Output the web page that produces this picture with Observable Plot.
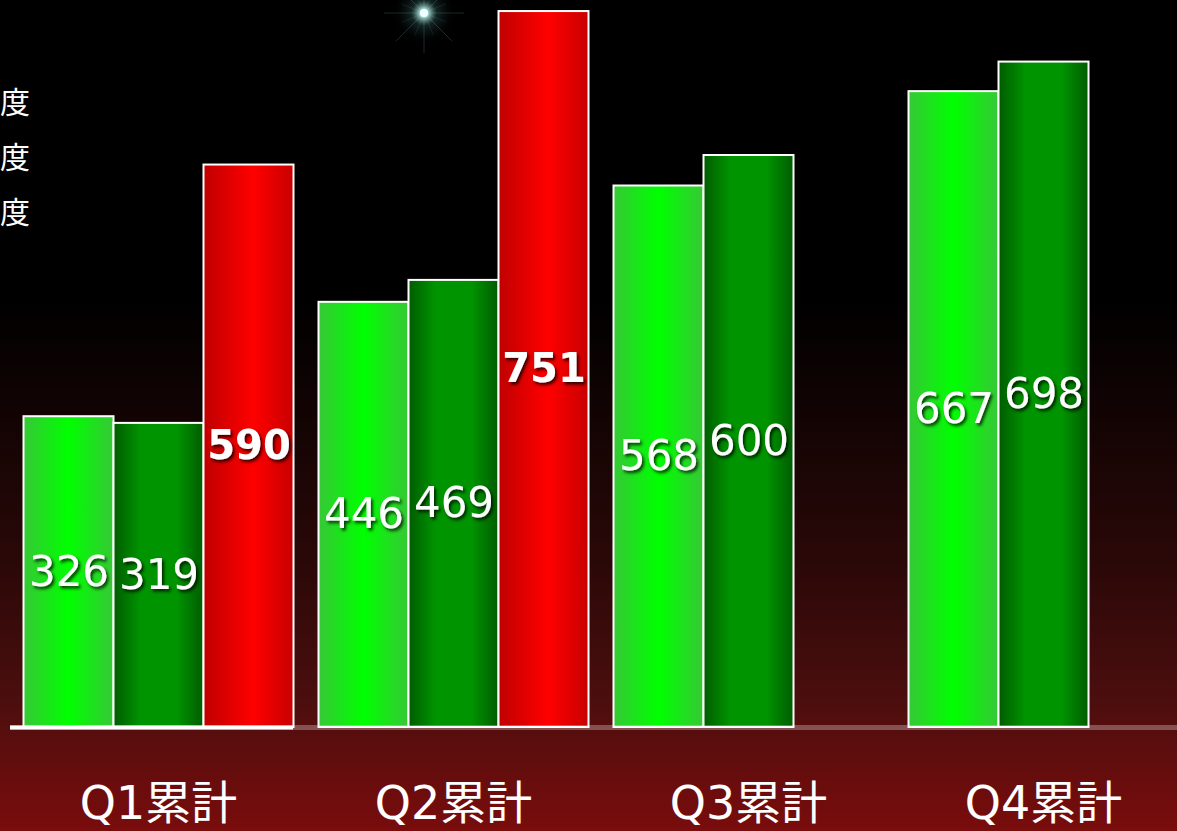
<!DOCTYPE html>
<html><head><meta charset="utf-8">
<script src="https://cdn.jsdelivr.net/npm/d3@7"></script>
<script src="https://cdn.jsdelivr.net/npm/@observablehq/plot@0.6"></script>
<style>
html,body{margin:0;padding:0;}
body{width:1177px;height:831px;overflow:hidden;background:linear-gradient(to bottom,#000 0px,#000 300px,#2a0808 560px,#4c0e0e 700px,#7a0c0c 831px);}
#chart{position:relative;width:1177px;height:831px;}
#legend{position:absolute;left:0;top:0;width:40px;height:300px;}
#legend div{position:absolute;left:0;color:#fff;font:30px 'Noto Sans CJK JP',sans-serif;line-height:1;}
</style></head><body><div id="chart"><div id="legend"></div></div>
<script>
// ---- data ----
const quarters = ["Q1累計", "Q2累計", "Q3累計", "Q4累計"];
const seriesNames = ["系列1", "系列2", "系列3"];
const values1 = [326, 446, 568, 667];
const values2 = [319, 469, 600, 698];
const values3 = [590, 751, null, null];
const legendLabels = ["度", "度", "度"];

const gradIds = {"系列1": "url(#gLight)", "系列2": "url(#gDark)", "系列3": "url(#gRed)"};
const data = [];
quarters.forEach((q, i) => {
  [values1, values2, values3].forEach((arr, j) => {
    if (arr[i] != null) data.push({quarter: q, series: seriesNames[j], value: arr[i]});
  });
});

const W = 1177, H = 831;
const FONT = "'DejaVu Sans','Noto Sans CJK JP',sans-serif";
const plot = Plot.plot({
  width: W, height: H,
  marginLeft: 22.5, marginRight: -1.5, marginTop: 0, marginBottom: 104,
  style: {background: "transparent", color: "white", fontFamily: FONT, overflow: "visible"},
  fx: {domain: quarters, paddingInner: 25 / 295, paddingOuter: 0, axis: null, label: null},
  x: {domain: seriesNames, padding: 0, axis: null},
  y: {domain: [0, 762.6], axis: null},
  color: {type: "identity"},
  marks: [
    Plot.barY(data, {fx: "quarter", x: "series", y: "value", fill: d => gradIds[d.series], stroke: "white", strokeWidth: 2}),
    Plot.text(data.filter(d => d.series !== "系列3"), {fx: "quarter", x: "series", y: d => d.value / 2, text: d => String(d.value), fill: "white", fontSize: 42}),
    Plot.text(data.filter(d => d.series === "系列3"), {fx: "quarter", x: "series", y: d => d.value / 2, text: d => String(d.value), fill: "white", fontSize: 40, fontWeight: "bold"}),
    Plot.axisFx({anchor: "bottom", tickSize: 0, tickPadding: 59, fontSize: 46, label: null, fill: "white", fontFamily: FONT})
  ]
});
document.getElementById("chart").appendChild(plot);
plot.style.position = "absolute"; plot.style.left = "0"; plot.style.top = "0";

// ---- decorations (gradients, shadow, baseline, star) ----
const svg = d3.select(plot);
const defs = svg.insert("defs", ":first-child");
function grad(id, stops) {
  const g = defs.append("linearGradient").attr("id", id).attr("x1", 0).attr("x2", 1).attr("y1", 0).attr("y2", 0);
  stops.forEach(([o, c]) => g.append("stop").attr("offset", o).attr("stop-color", c));
}
grad("gLight", [[0, "#36c836"], [0.5, "#00ff00"], [1, "#36c836"]]);
grad("gDark", [[0, "#005c00"], [0.3, "#009400"], [0.7, "#009400"], [1, "#005c00"]]);
grad("gRed", [[0, "#c00000"], [0.55, "#ff0000"], [1, "#c80000"]]);
const f = defs.append("filter").attr("id", "shadow").attr("x", "-20%").attr("y", "-20%").attr("width", "150%").attr("height", "150%");
f.append("feDropShadow").attr("dx", 2).attr("dy", 2.5).attr("stdDeviation", 1.5).attr("flood-color", "#000").attr("flood-opacity", 0.75);
svg.selectAll('g[aria-label="text"]').attr("filter", "url(#shadow)");

const y = plot.scale("y"), fx = plot.scale("fx");
const y0 = y.apply(0);
const q1end = fx.apply(quarters[0]) + fx.bandwidth;
svg.append("line").attr("x1", 10).attr("x2", W).attr("y1", y0 + 0.5).attr("y2", y0 + 0.5)
  .attr("stroke", "rgba(255,255,255,0.28)").attr("stroke-width", 5);
svg.append("line").attr("x1", 10).attr("x2", q1end).attr("y1", y0 + 0.5).attr("y2", y0 + 0.5)
  .attr("stroke", "white").attr("stroke-width", 4);

// star glow
const rg = defs.append("radialGradient").attr("id", "glow");
rg.append("stop").attr("offset", 0).attr("stop-color", "#ffffff").attr("stop-opacity", 1);
rg.append("stop").attr("offset", 0.12).attr("stop-color", "#c8fbf3").attr("stop-opacity", 0.9);
rg.append("stop").attr("offset", 0.4).attr("stop-color", "#3c7a74").attr("stop-opacity", 0.3);
rg.append("stop").attr("offset", 1).attr("stop-color", "#000").attr("stop-opacity", 0);
const star = svg.append("g").attr("transform", "translate(424,13)");
star.append("circle").attr("r", 32).attr("fill", "url(#glow)");
[0, 45, 90, 135, 22, 67, 112, 157].forEach((a, i) => {
  const L = i < 4 ? 40 : 24;
  const r = a * Math.PI / 180;
  star.append("line").attr("x1", -L * Math.cos(r)).attr("y1", -L * Math.sin(r)).attr("x2", L * Math.cos(r)).attr("y2", L * Math.sin(r))
    .attr("stroke", "#9fd8d0").attr("stroke-opacity", i < 4 ? 0.18 : 0.1).attr("stroke-width", 1);
});
star.append("circle").attr("r", 4).attr("fill", "#f0ffff");

// legend (at the left edge, as in the reference)
const lg = document.getElementById("legend");
legendLabels.forEach((t, i) => {
  const d = document.createElement("div");
  d.textContent = t;
  d.style.top = (85 + i * 55) + "px";
  lg.appendChild(d);
});
</script></body></html>
